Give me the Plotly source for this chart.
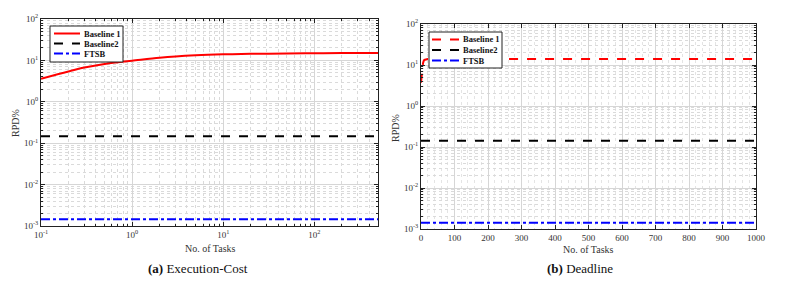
import plotly.graph_objects as go

# ---- data ----
tasks_a = [0.1, 0.2, 0.3, 0.5, 0.7, 1, 2, 3, 5, 10, 20, 50, 100, 200, 500]
base1_a = [3.6, 5.4, 6.7, 8.2, 9.0, 9.8, 11.6, 12.5, 13.3, 14.0, 14.4, 14.7, 14.9, 15.0, 15.0]
base2_a = [0.148] * len(tasks_a)
ftsb_a = [0.00145] * len(tasks_a)

tasks_b = [0, 2, 4, 6, 8, 10, 20, 50, 100, 200, 300, 400, 500, 600, 700, 800, 900, 1000]
base1_b = [3.7, 6.5, 9.0, 11.0, 12.5, 13.3, 14.0, 14.1, 14.1, 14.1, 14.1, 14.1, 14.1, 14.1, 14.1, 14.1, 14.1, 14.1]
base2_b = [0.142] * len(tasks_b)
ftsb_b = [0.00142] * len(tasks_b)

series_names = ["Baseline 1", "Baseline2", "FTSB"]
ytick_exps = [-3, -2, -1, 0, 1, 2]
xtick_exps_a = [-1, 0, 1, 2]
xtick_vals_b = list(range(0, 1001, 100))

SERIF = "Liberation Serif, Times New Roman, serif"
W, H = 785, 281

ytick_vals = [10.0 ** e for e in ytick_exps]
xtick_vals_a = [10.0 ** e for e in xtick_exps_a]
ytext = ["10<sup>%d</sup>" % e for e in ytick_exps]
xtext_a = ["10<sup>%d</sup>" % e for e in xtick_exps_a]
yminor = [m * 10.0 ** e for e in ytick_exps[:-1] for m in range(2, 10)]
xminor_a = [m * 10.0 ** e for e in xtick_exps_a for m in range(2, 10)]

styles_a = [dict(color="#ff0000", width=2, shape="spline"),
            dict(color="#000000", width=2, dash="dash"),
            dict(color="#0000ff", width=2, dash="dashdot")]
styles_b = [dict(color="#ff0000", width=2, dash="dash"),
            dict(color="#000000", width=2, dash="dash"),
            dict(color="#0000ff", width=2, dash="dashdot")]

fig = go.Figure()
for name, ys, st in zip(series_names, [base1_a, base2_a, ftsb_a], styles_a):
    fig.add_trace(go.Scatter(x=tasks_a, y=ys, mode="lines", name=name, line=st,
                             xaxis="x", yaxis="y", showlegend=False))
for name, ys, st in zip(series_names, [base1_b, base2_b, ftsb_b], styles_b):
    fig.add_trace(go.Scatter(x=tasks_b, y=ys, mode="lines", name=name, line=st,
                             xaxis="x2", yaxis="y2", showlegend=False))

tickfont = dict(family=SERIF, size=9, color="#333333")
common = dict(showline=True, linecolor="#222222", linewidth=1, mirror="allticks",
              ticks="inside", ticklen=4, tickcolor="#222222", tickfont=tickfont,
              showgrid=True, gridcolor="#d6d6d6", gridwidth=1, zeroline=False,
              automargin=False)


def minor_arr(vals):
    return dict(tickmode="array", tickvals=vals, ticks="inside", ticklen=2,
                tickcolor="#222222", showgrid=True, gridcolor="#dadada",
                griddash="dot", gridwidth=1)


# ---- hand-drawn compact legends (box, line samples, labels) ----
shapes = []
annotations = []


def px(x):
    return x / W


def py(y):
    return 1 - y / H


def add_legend(box, sample_x0, sample_x1, text_x, rows, styles):
    x0, y0, x1, y1 = box
    shapes.append(dict(type="rect", xref="paper", yref="paper",
                       x0=px(x0), x1=px(x1), y0=py(y1), y1=py(y0),
                       line=dict(color="#222222", width=1), fillcolor="white",
                       layer="above"))
    for name, ry, st in zip(series_names, rows, styles):
        shapes.append(dict(type="line", xref="paper", yref="paper",
                           x0=px(sample_x0), x1=px(sample_x1), y0=py(ry), y1=py(ry),
                           line=dict(color=st["color"], width=2, dash=st.get("dash", "solid")),
                           layer="above"))
        annotations.append(dict(text="<b>%s</b>" % name, xref="paper", yref="paper",
                                x=px(text_x), y=py(ry), xanchor="left", yanchor="middle",
                                showarrow=False,
                                font=dict(family=SERIF, size=8.5, color="#111111")))


add_legend((50, 26, 123, 62), 54, 80, 81.5, [33.5, 43.5, 53.5], styles_a)
add_legend((429, 32, 502, 68), 432, 459, 460.5, [39.5, 50, 60.5], styles_b)


def label(text, x, y, size, color="#333333", angle=0):
    return dict(text=text, x=px(x), y=py(y), xref="paper", yref="paper",
                xanchor="center", yanchor="middle", textangle=angle, showarrow=False,
                font=dict(family=SERIF, size=size, color=color))


annotations += [
    label("No. of Tasks", 210, 248, 10),
    label("No. of Tasks", 588, 249, 10),
    label("RPD%", 15, 123, 10, angle=-90),
    label("RPD%", 395, 128, 10, angle=-90),
    label("<b>(a)</b> Execution-Cost", 198, 268, 13, "#111111"),
    label("<b>(b)</b> Deadline", 580, 268, 13, "#111111"),
]

fig.update_layout(
    width=W, height=H,
    margin=dict(l=0, r=0, t=0, b=0, autoexpand=False),
    paper_bgcolor="white", plot_bgcolor="white",
    showlegend=False,
    xaxis=dict(domain=[px(41), px(378)], type="log", range=[-1, 2.699],
               tickmode="array", tickvals=xtick_vals_a, ticktext=xtext_a,
               minor=minor_arr(xminor_a), anchor="y", **common),
    yaxis=dict(domain=[py(226), py(19)], type="log", range=[-3, 2],
               tickmode="array", tickvals=ytick_vals, ticktext=ytext,
               minor=minor_arr(yminor), anchor="x", **common),
    xaxis2=dict(domain=[px(421), px(756)], type="linear", range=[0, 1000],
                tickmode="array", tickvals=xtick_vals_b,
                minor=dict(dtick=20, ticks="", showgrid=True,
                           gridcolor="#e4e4e4", griddash="dot", gridwidth=1),
                anchor="y2", **common),
    yaxis2=dict(domain=[py(229), py(24)], type="log", range=[-3, 2],
                tickmode="array", tickvals=ytick_vals, ticktext=ytext,
                minor=minor_arr(yminor), anchor="x2", **common),
    shapes=shapes,
    annotations=annotations,
)

fig.write_html("out.html", config={"displayModeBar": False},
               post_script="document.body.style.margin='0';document.body.style.overflow='hidden';")
